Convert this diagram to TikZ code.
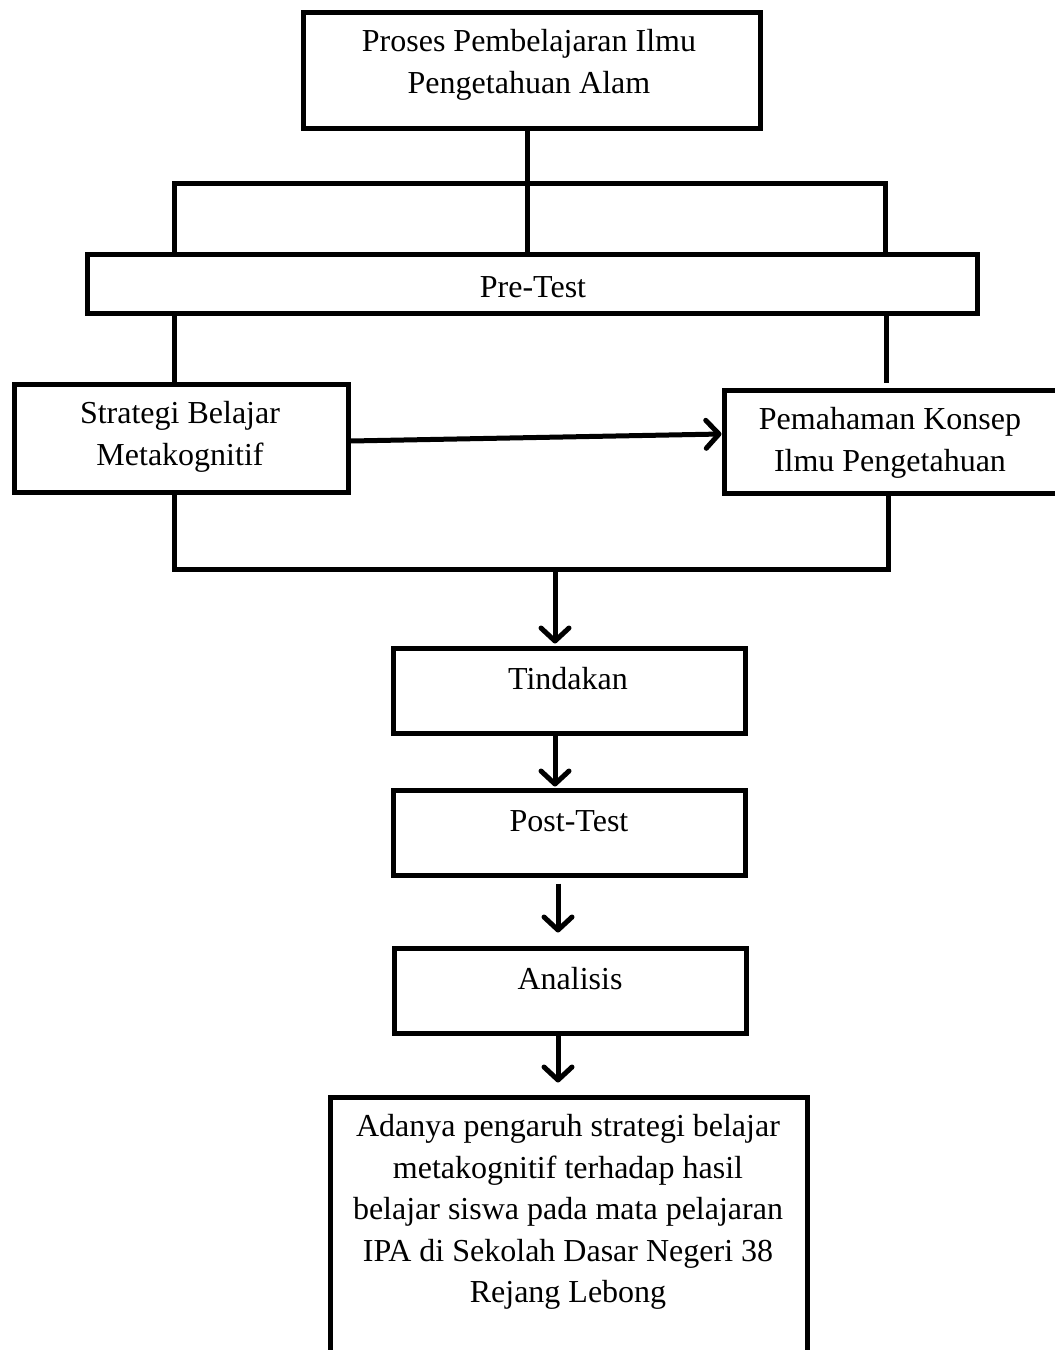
\documentclass[tikz,border=0pt]{standalone}
\usepackage{fontspec}
\setmainfont{Liberation Serif}
\usetikzlibrary{arrows.meta,calc}
\tikzset{
  box/.style={draw=black, line width=5pt, rectangle, inner sep=0pt, line join=miter},
  txt/.style={align=center, inner sep=0pt, font=\fontsize{32}{41.5}\selectfont},
  conn/.style={draw=black, line width=5pt, line join=miter},
  arr/.style={conn, -{Straight Barb[length=13pt,width=28pt,line cap=round,line join=round]}, line cap=butt}
}
\begin{document}
\begin{tikzpicture}[x=1pt,y=-1pt]
\useasboundingbox (0,0) rectangle (1055,1350);
\fill[white] (0,0) rectangle (1055,1350);
% boxes
\node[box, minimum width=457pt, minimum height=116pt] (top) at (531.5,70) {};
\node[box, minimum width=890pt, minimum height=59pt] (pre) at (532,283.5) {};
\node[box, minimum width=334pt, minimum height=108pt] (strat) at (181,438) {};
\node[box, minimum width=336pt, minimum height=103pt] (pem) at (892,441.5) {};
\node[box, minimum width=352pt, minimum height=85pt] (tind) at (569,690.5) {};
\node[box, minimum width=352pt, minimum height=85pt] (post) at (569,832.5) {};
\node[box, minimum width=352pt, minimum height=85pt] (anal) at (570,990.5) {};
\node[box, minimum width=477pt, minimum height=283pt] (fin) at (568.5,1238.5) {};
% texts
\node[txt] (ttop) at (529,65) {Proses Pembelajaran Ilmu\\Pengetahuan Alam};
\node[txt] (tpre) at (533,287) {Pre-Test};
\node[txt] (tstrat) at (180,437) {Strategi Belajar\\Metakognitif};
\node[txt] (tpem) at (890,443) {Pemahaman Konsep\\Ilmu Pengetahuan};
\node[txt] (ttind) at (568,679) {Tindakan};
\node[txt] (tpost) at (569,821) {Post-Test};
\node[txt] (tanal) at (570,979) {Analisis};
\node[txt] (tfin) at (568,1212) {Adanya pengaruh strategi belajar\\metakognitif terhadap hasil\\belajar siswa pada mata pelajaran\\IPA di Sekolah Dasar Negeri 38\\Rejang Lebong};
% coordinates
\coordinate (bl) at (174,183);
\coordinate (br) at (885,183);
\coordinate (mc) at (527,0);
\coordinate (pr) at (886,383);
\coordinate (ll) at (174,569);
\coordinate (lr) at (888,569);
\coordinate (lm) at (555,569);
\coordinate (m2) at (558,0);
% connectors
\draw[conn] (top.south -| mc) -- (pre.north -| mc);
\draw[conn] (pre.north -| bl) -- (bl) -- (br) -- (pre.north -| br);
\draw[conn] (pre.south -| bl) -- (strat.north -| bl);
\draw[conn] (pre.south -| pr) -- (pr);
\draw[arr] ($(strat.east)+(0,3)$) -- ($(pem.west)+(0,-7.5)$);
\draw[conn] (strat.south -| ll) -- (ll) -- (lr) -- (pem.south -| lr);
\draw[arr] (lm) -- ($(tind.north -| lm)+(0,-2)$);
\draw[arr] (tind.south -| lm) -- ($(post.north -| lm)+(0,-1)$);
\draw[arr] ($(post.south -| m2)+(0,6)$) -- ($(anal.north -| m2)+(0,-13)$);
\draw[arr] (anal.south -| m2) -- ($(fin.north -| m2)+(0,-12)$);
\end{tikzpicture}
\end{document}
